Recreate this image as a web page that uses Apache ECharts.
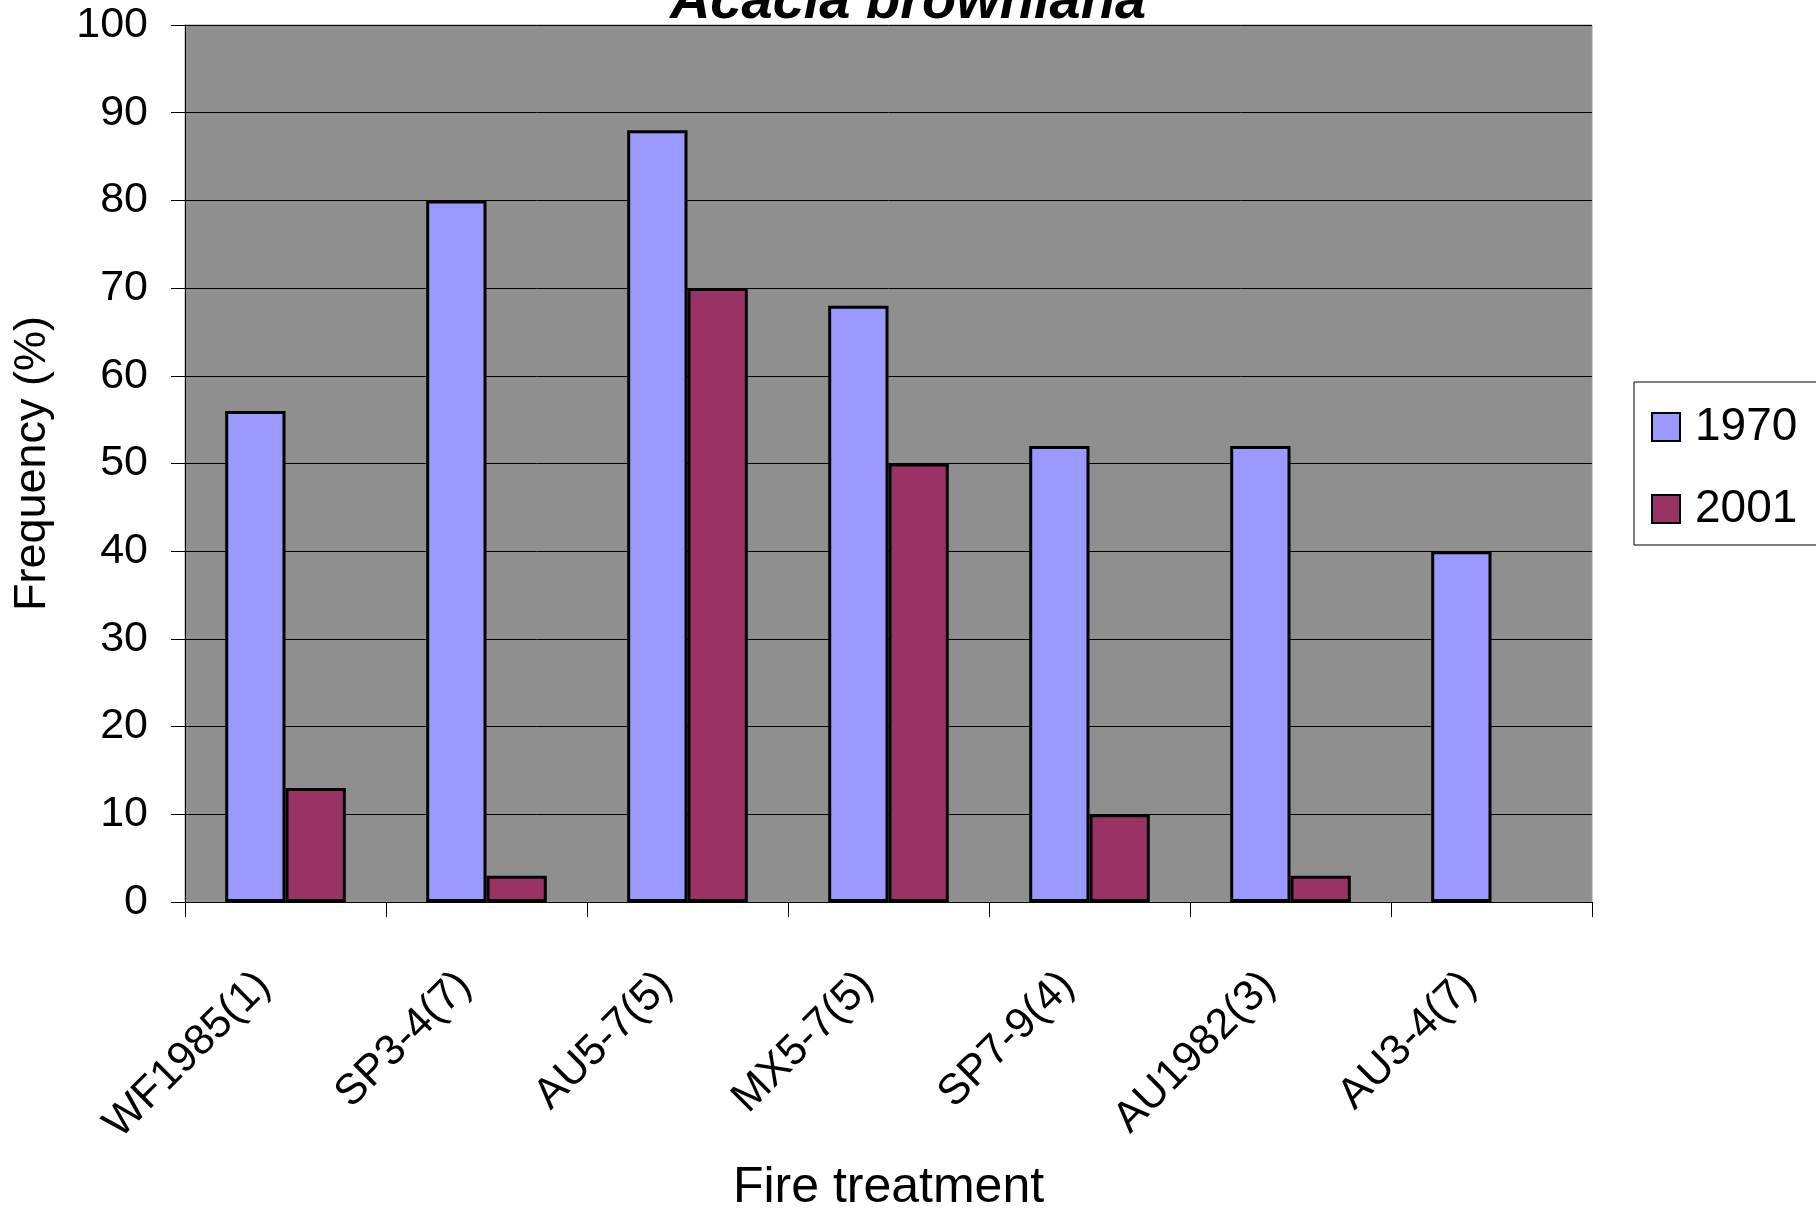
<!DOCTYPE html>
<html>
<head>
<meta charset="utf-8">
<script src="https://cdn.jsdelivr.net/npm/echarts@6/dist/echarts.min.js"></script>
<style>
html,body{margin:0;padding:0;background:#fff;}
#chart{width:1816px;height:1218px;}
</style>
</head>
<body>
<div id="chart"></div>
<script>
const categories = ['WF1985(1)', 'SP3-4(7)', 'AU5-7(5)', 'MX5-7(5)', 'SP7-9(4)', 'AU1982(3)', 'AU3-4(7)'];
const values1970 = [56, 80, 88, 68, 52, 52, 40];
const values2001 = [13, 3, 70, 50, 10, 3, 0];
const yTicks = [0, 10, 20, 30, 40, 50, 60, 70, 80, 90, 100];

const chart = echarts.init(document.getElementById('chart'), null, {renderer: 'canvas'});
const font = 'Liberation Sans, Arial, sans-serif';
// zero-height bars are not drawn with an outline in the original
const toBarData = arr => arr.map(v => v === 0 ? {value: v, itemStyle: {borderWidth: 0}} : v);

chart.setOption({
  animation: false,
  backgroundColor: '#ffffff',
  title: {
    text: 'Acacia browniana',
    left: 'center',
    top: -25,
    padding: 0,
    textStyle: {fontFamily: font, fontSize: 56, fontWeight: 'bold', fontStyle: 'italic', color: '#000'}
  },
  legend: {
    orient: 'vertical',
    left: 1634,
    top: 382,
    width: 220,
    padding: [22, 40, 13, 17],
    itemGap: 36,
    itemWidth: 28,
    itemHeight: 28,
    backgroundColor: '#ffffff',
    borderColor: '#000000',
    borderWidth: 1,
    icon: 'rect',
    textStyle: {fontFamily: font, fontSize: 46, color: '#000', padding: [0, 0, 0, 10]},
    data: ['1970', '2001']
  },
  grid: {
    left: 185, right: 224, top: 25, bottom: 309,
    show: true,
    backgroundColor: '#8f8f8f',
    borderColor: '#9a9a9a',
    borderWidth: 1
  },
  xAxis: {
    type: 'category',
    data: categories,
    boundaryGap: true,
    axisLine: {lineStyle: {color: '#000', width: 1}},
    axisTick: {show: true, length: 15, lineStyle: {color: '#000'}},
    axisLabel: {rotate: 45, margin: 55, fontFamily: font, fontSize: 43, color: '#000', interval: 0, padding: [0, 31, 0, 0]},
    name: 'Fire treatment',
    nameLocation: 'middle',
    nameGap: 261,
    nameTextStyle: {fontFamily: font, fontSize: 50, color: '#000'}
  },
  yAxis: {
    type: 'value',
    min: yTicks[0],
    max: yTicks[yTicks.length - 1],
    interval: 10,
    axisLine: {show: true, lineStyle: {color: '#000', width: 1}},
    axisTick: {show: true, length: 14, lineStyle: {color: '#000'}},
    axisLabel: {margin: 37, fontFamily: font, fontSize: 43, color: '#000'},
    splitLine: {show: true, lineStyle: {color: '#000', width: 1}},
    name: 'Frequency (%)',
    nameLocation: 'middle',
    nameGap: 130,
    nameTextStyle: {fontFamily: font, fontSize: 45, color: '#000'}
  },
  series: [
    {
      name: '1970', type: 'bar', data: toBarData(values1970),
      barGap: '0%', barCategoryGap: '40%',
      itemStyle: {color: '#9999ff', borderColor: '#000', borderWidth: 3}
    },
    {
      name: '2001', type: 'bar', data: toBarData(values2001),
      itemStyle: {color: '#993366', borderColor: '#000', borderWidth: 3}
    }
  ]
});
</script>
</body>
</html>
